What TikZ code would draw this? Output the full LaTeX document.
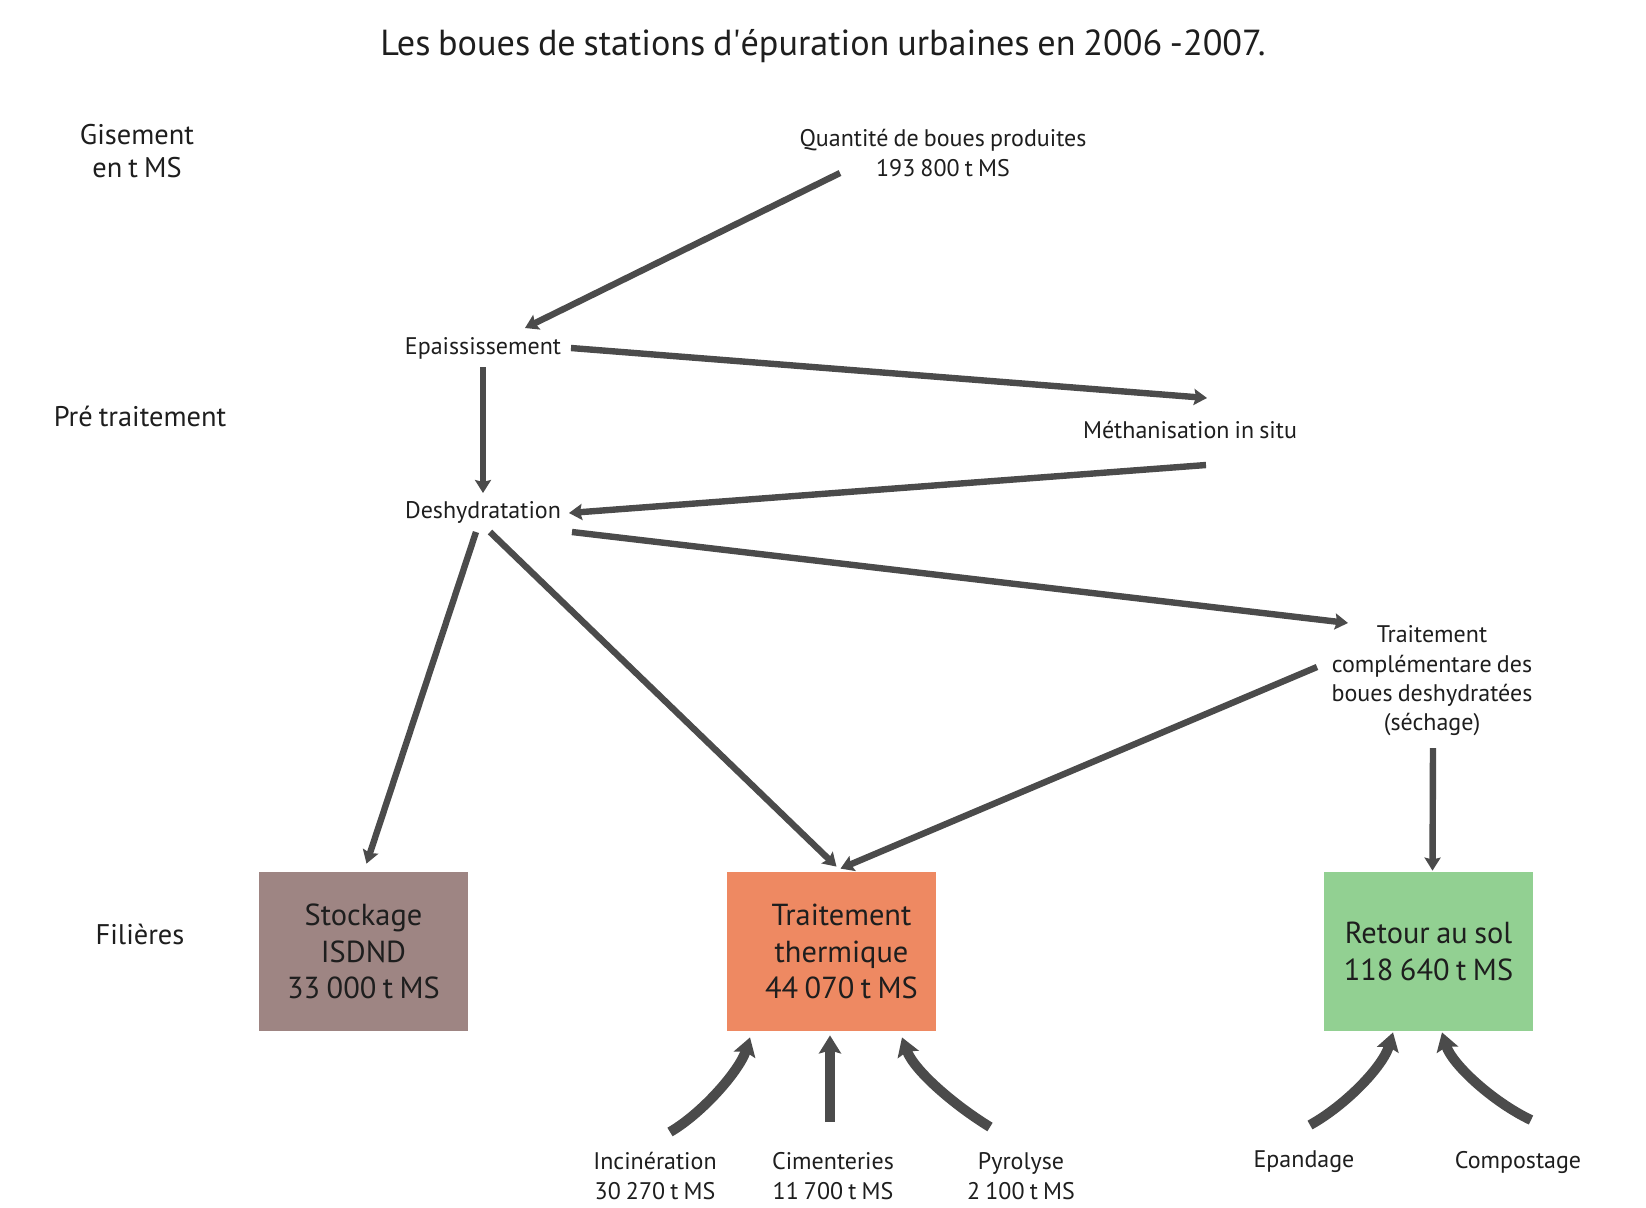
\documentclass[tikz,border=0pt]{standalone}
\usepackage{fontspec}
\setmainfont{PT Sans}[WordSpace=0.8]
\usetikzlibrary{arrows.meta,calc}

\definecolor{flow}{HTML}{4B4B4B}
\definecolor{ink}{HTML}{1E1E1E}
\definecolor{stockfill}{HTML}{9E8583}
\definecolor{thermfill}{HTML}{EE8962}
\definecolor{solfill}{HTML}{92D092}

\begin{document}
\begin{tikzpicture}[
    x=0.5pt, y=-0.5pt,
    every node/.style={text=ink, inner sep=0pt},
    titletext/.style={font=\fontsize{18.1}{22}\selectfont},
    sidelabel/.style={font=\fontsize{14.2}{16.8}\selectfont, align=center},
    steplabel/.style={font=\fontsize{12}{14.7}\selectfont, align=center},
    filiere/.style={minimum width=104.5pt, minimum height=79.5pt,
        font=\fontsize{15.2}{18.4}\selectfont, align=center},
    flowarrow/.style={draw=flow, line width=3.2pt,
        -{Stealth[length=6.5pt, width=8pt, inset=1pt]}},
    inarrow/.style={draw=flow, line width=5pt,
        -{Stealth[length=9pt, width=11pt, inset=1.5pt]}},
  ]
  \useasboundingbox[fill=white] (0,0) rectangle (1646,1207);

  % title
  \node[titletext] (title) at (823,46) {Les boues de stations d\textquotesingle épuration urbaines en 2006 -2007.};

  % level labels on the left
  \node[sidelabel] (gis) at (137,151) {Gisement\\en t MS};
  \node[sidelabel] (pre) at (140,416) {Pré traitement};
  \node[sidelabel] (fil) at (140,934) {Filières};

  % process steps
  \node[steplabel] (q)   at (943,153) {Quantité de boues produites\\193 800 t MS};
  \node[steplabel] (epa) at (483,348) {Epaississement};
  \node[steplabel] (des) at (483,512) {Deshydratation};
  \node[steplabel] (met) at (1190,430) {Méthanisation in situ};
  \node[steplabel] (tc)  at (1432,681) {Traitement\\complémentare des\\boues deshydratées\\(séchage)};

  % outlets
  \node[filiere, fill=stockfill] (sto) at (363.5,951.5) {Stockage\\ISDND\\33 000 t MS};
  \node[filiere, fill=thermfill] (the) at (831.5,951.5) {\hspace*{10pt}Traitement\\\hspace*{10pt}thermique\\\hspace*{10pt}44 070 t MS};
  \node[filiere, fill=solfill]   (ret) at (1428.5,951.5) {Retour au sol\\118 640 t MS};

  % sub-routes
  \node[steplabel] (inc) at (655,1176) {Incinération\\30 270 t MS};
  \node[steplabel] (cim) at (833,1176) {Cimenteries\\11 700 t MS};
  \node[steplabel] (pyr) at (1021,1176) {Pyrolyse\\2 100 t MS};
  \node[steplabel] (epd) at (1304,1162) {Epandage};
  \node[steplabel] (com) at (1518,1162) {Compostage};

  % main flows
  \draw[flowarrow] ($(q.center)+(-103,20)$) -- ($(epa.center)+(42,-20)$);
  \draw[flowarrow] ($(epa.center)+(88,0)$) -- ($(met.center)+(17,-32)$);
  \draw[flowarrow] ($(epa.center)+(0,19)$) -- ($(des.center)+(0,-19)$);
  \draw[flowarrow] ($(met.center)+(16,35)$) -- ($(des.center)+(86,1)$);
  \draw[flowarrow] ($(des.center)+(89,20)$) -- ($(tc.center)+(-84,-58)$);
  \draw[flowarrow] ($(des.center)+(-7,20)$) -- ($(sto.north)+(3,-8)$);
  \draw[flowarrow] ($(des.center)+(7,20)$) -- ($(the.north)+(5,-5)$);
  \draw[flowarrow] ($(tc.center)+(-115,-14)$) -- ($(the.north)+(9,-3)$);
  \draw[flowarrow] ($(tc.center)+(1,67)$) -- ($(ret.north)+(4,-1)$);

  % routes into the thermal treatment
  \draw[inarrow] ($(inc.center)+(15,-44)$) .. controls +(34,-20) and +(-10,32) .. ($(the.south)+(-81.5,6)$);
  \draw[inarrow] ($(cim.center)+(-3,-54)$) -- ($(the.south)+(-1.5,4)$);
  \draw[inarrow] ($(pyr.center)+(-31,-49)$) .. controls +(-36,-22) and +(12,33) .. ($(the.south)+(70.5,6)$);

  % routes into land application
  \draw[inarrow] ($(epd.center)+(6,-37)$) .. controls +(36,-20) and +(-10,34) .. ($(ret.south)+(-35.5,1)$);
  \draw[inarrow] ($(com.center)+(13,-42)$) .. controls +(-38,-18) and +(10,32) .. ($(ret.south)+(13.5,1)$);
\end{tikzpicture}
\end{document}
